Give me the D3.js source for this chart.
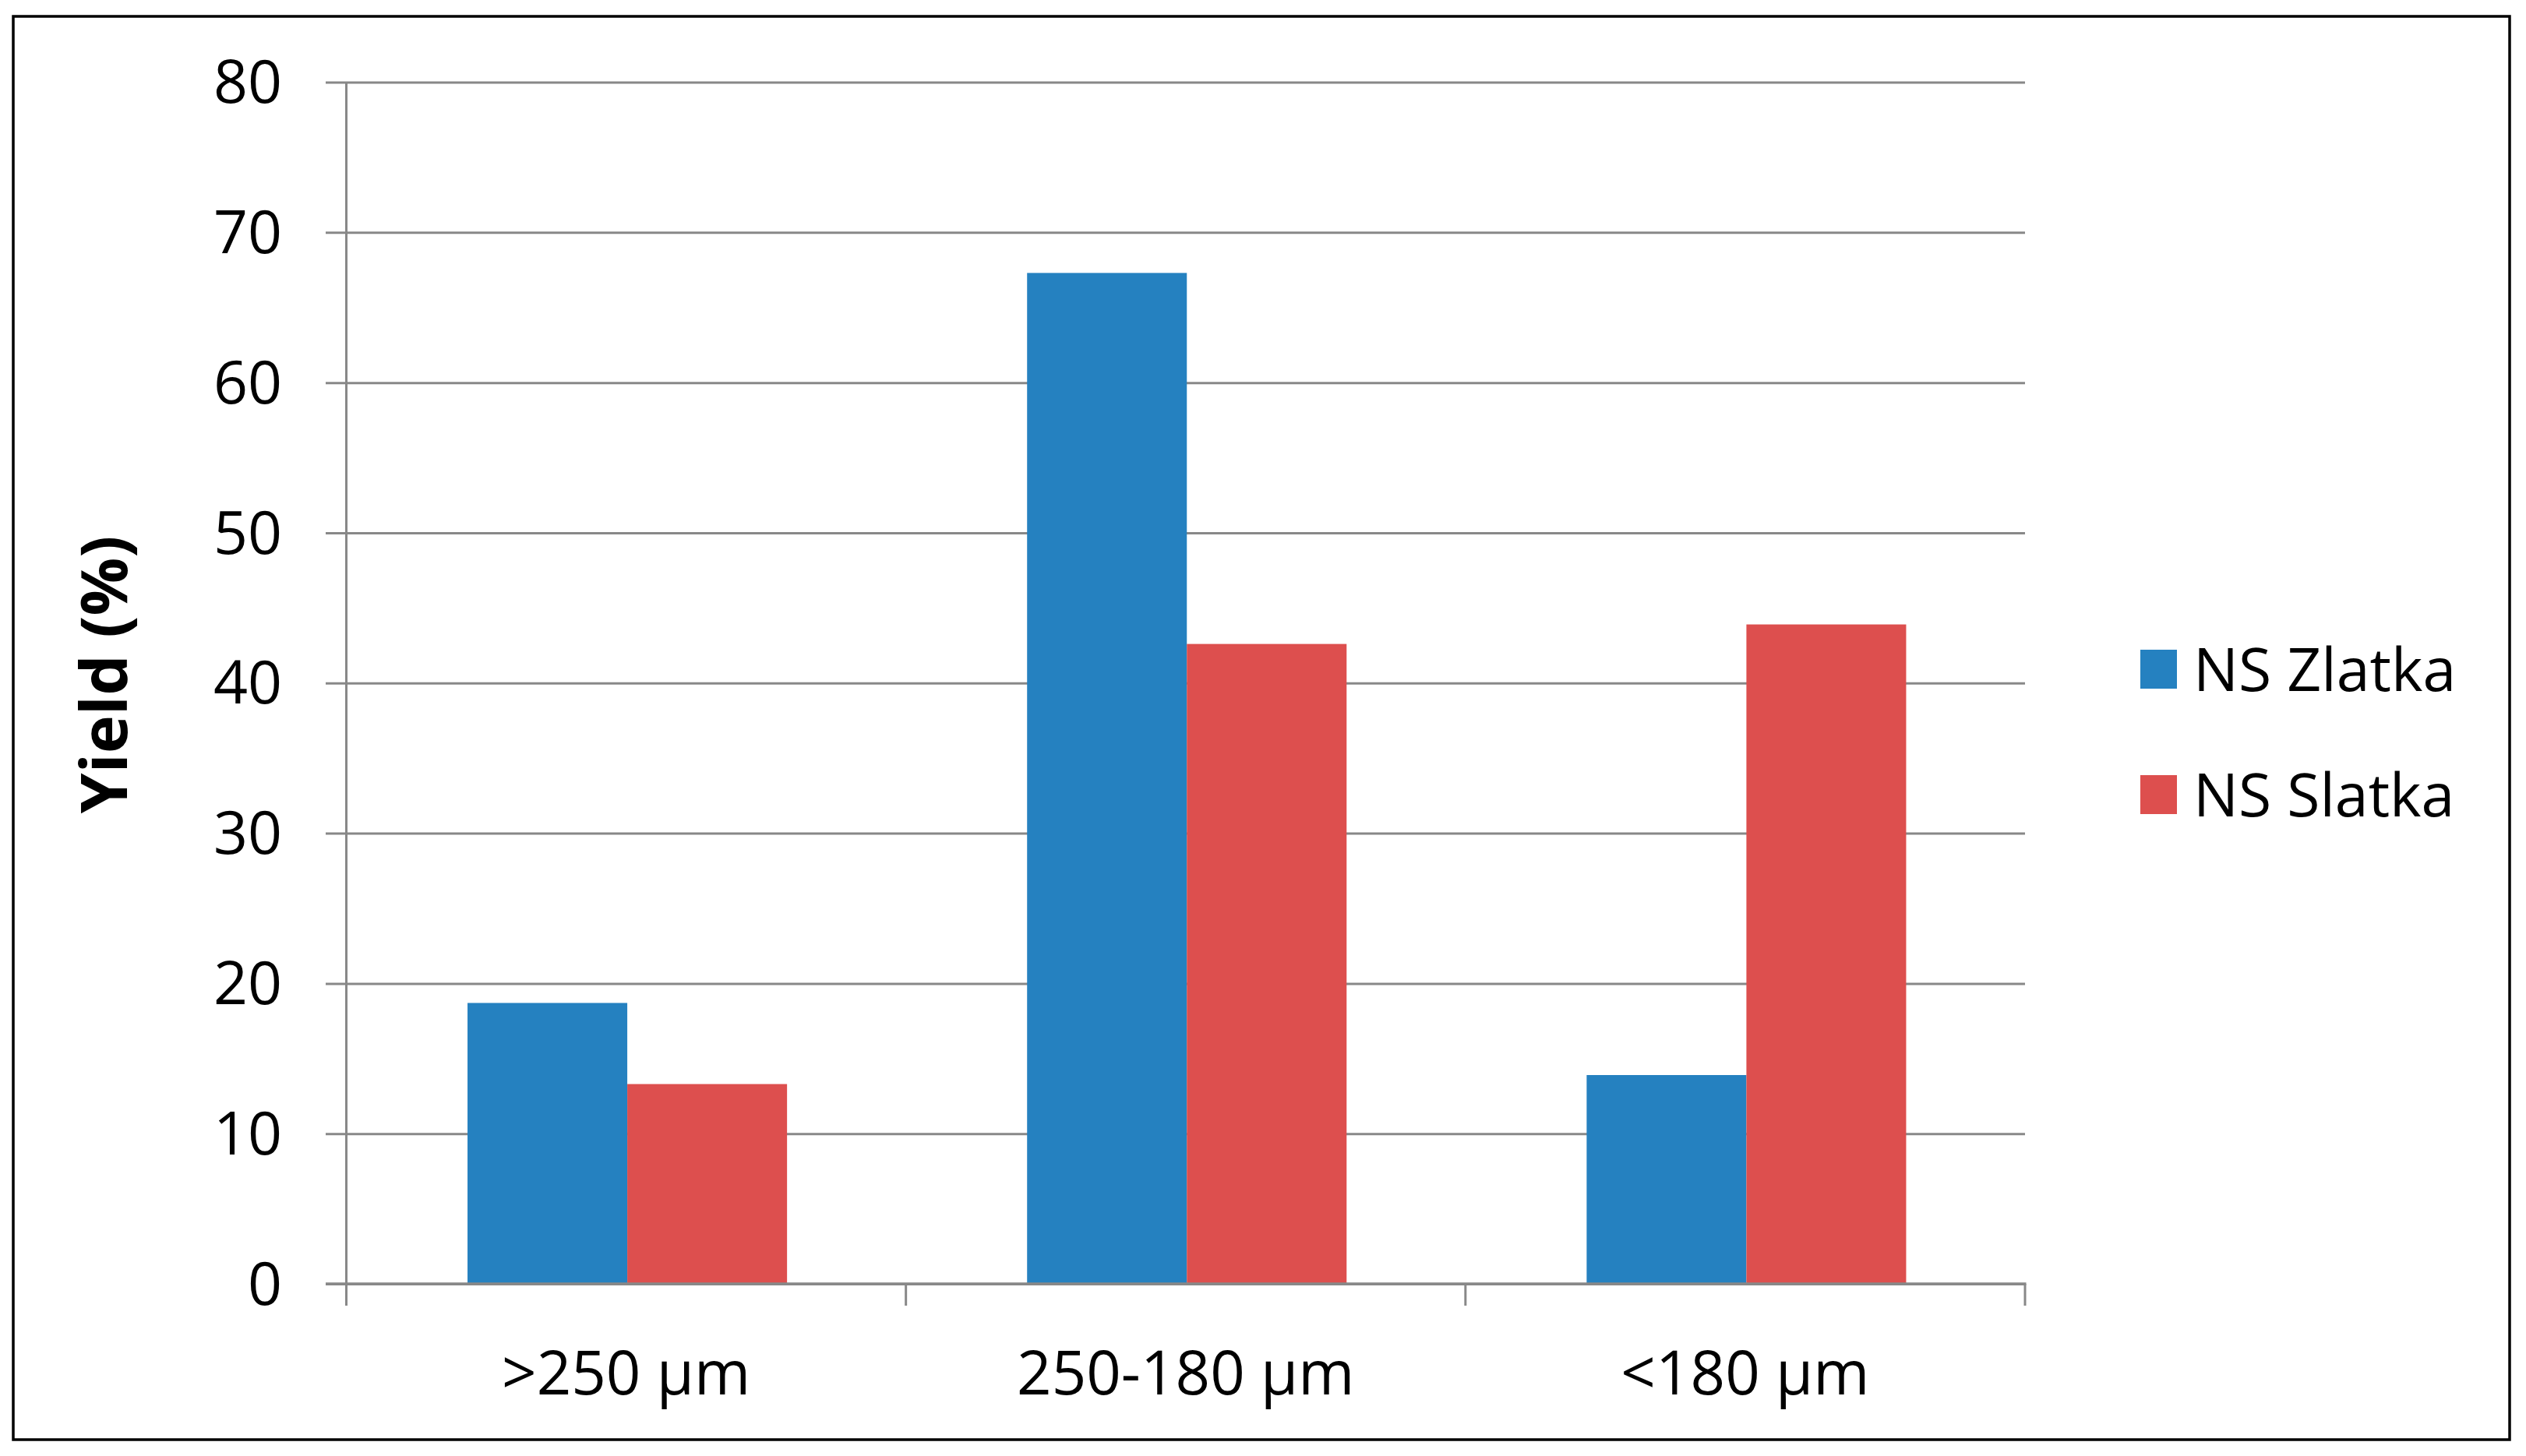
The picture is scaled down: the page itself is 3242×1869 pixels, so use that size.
<!DOCTYPE html>
<html>
<head>
<meta charset="utf-8">
<script src="https://cdn.jsdelivr.net/npm/d3@7"></script>
<style>
  html, body { margin: 0; padding: 0; background: #fff; }
  svg { display: block; }
  text { font-family: "Open Sans", "Liberation Sans", sans-serif; fill: #000; }
</style>
</head>
<body>
<svg id="chart" width="3242" height="1869"></svg>
<script>
const categories = [">250 µm", "250-180 µm", "<180 µm"];
const seriesNames = ["NS Zlatka", "NS Slatka"];
const zlatka = [18.7, 67.3, 13.9];
const slatka = [13.3, 42.6, 43.9];
const yTicks = [0, 10, 20, 30, 40, 50, 60, 70, 80];
const colors = ["#2581c0", "#dd4f4e"];
const yTitle = "Yield (%)";

const svg = d3.select("#chart");

// outer border
svg.append("rect").attr("x", 17).attr("y", 21).attr("width", 3204).attr("height", 1827)
  .attr("fill", "#fff").attr("stroke", "#000").attr("stroke-width", 3.5);

const plot = { left: 444.5, right: 2599, top: 105.5, bottom: 1648 };

const x0 = d3.scaleBand().domain(categories).range([plot.left, plot.right])
  .paddingInner(0.429).paddingOuter(0.2145);
const x1 = d3.scaleBand().domain(seriesNames).range([0, x0.bandwidth()]).padding(0);
const y = d3.scaleLinear().domain([0, 80]).range([plot.bottom, plot.top]);

// y gridlines + labels
const yAxis = d3.axisLeft(y).tickValues(yTicks)
  .tickSizeInner(-(plot.right - 418)).tickSizeOuter(0).tickPadding(56)
  .tickFormat(d3.format("d"));
const gy = svg.append("g").attr("transform", "translate(418,0)").call(yAxis);
gy.select(".domain").remove();
gy.selectAll(".tick line").attr("stroke", "#888").attr("stroke-width", 3);
gy.selectAll(".tick text").style("font-size", "77px").attr("fill", "#000").attr("dy", "0.34em");

// bars
const data = categories.map((c, i) => ({ cat: c, vals: [zlatka[i], slatka[i]] }));
const groups = svg.append("g").selectAll("g").data(data).join("g")
  .attr("transform", d => `translate(${x0(d.cat) + 1.5},0)`);
groups.selectAll("rect").data(d => d.vals.map((v, j) => ({ name: seriesNames[j], v, j })))
  .join("rect")
  .attr("x", d => x1(d.name))
  .attr("y", d => y(d.v))
  .attr("width", x1.bandwidth())
  .attr("height", d => y(0) - y(d.v))
  .attr("fill", d => colors[d.j]);

// y axis line
svg.append("line").attr("x1", plot.left).attr("x2", plot.left)
  .attr("y1", y(80)).attr("y2", y(0) + 28).attr("stroke", "#888").attr("stroke-width", 3);

// x axis line and boundary ticks
svg.append("line").attr("x1", 418).attr("x2", plot.right + 1.5)
  .attr("y1", y(0)).attr("y2", y(0)).attr("stroke", "#888").attr("stroke-width", 3.5);
const half = (x0.step() - x0.bandwidth()) / 2;
const bounds = categories.map(c => x0(c) - half).concat([x0(categories[categories.length - 1]) + x0.bandwidth() + half]);
svg.append("g").selectAll("line").data(bounds).join("line")
  .attr("x1", d => d).attr("x2", d => d)
  .attr("y1", y(0)).attr("y2", y(0) + 28)
  .attr("stroke", "#888").attr("stroke-width", 3);

// category labels
svg.append("g").selectAll("text").data(categories).join("text")
  .attr("x", d => x0(d) + x0.bandwidth() / 2)
  .attr("y", 1790)
  .attr("text-anchor", "middle")
  .style("font-size", "78px")
  .text(d => d);

// y title
svg.append("text")
  .attr("transform", "translate(163,866) rotate(-90)")
  .attr("text-anchor", "middle")
  .style("font-size", "83px").style("font-weight", "bold")
  .text(yTitle);

// legend
const legend = svg.append("g").selectAll("g").data(seriesNames).join("g")
  .attr("transform", (d, i) => `translate(2747,${859 + i * 161})`);
legend.append("rect").attr("x", 0).attr("y", -25).attr("width", 47).attr("height", 50)
  .attr("fill", (d, i) => colors[i]);
legend.append("text").attr("x", 68).attr("y", 0).attr("dy", "0.36em")
  .style("font-size", "77px").text(d => d);
</script>
</body>
</html>
